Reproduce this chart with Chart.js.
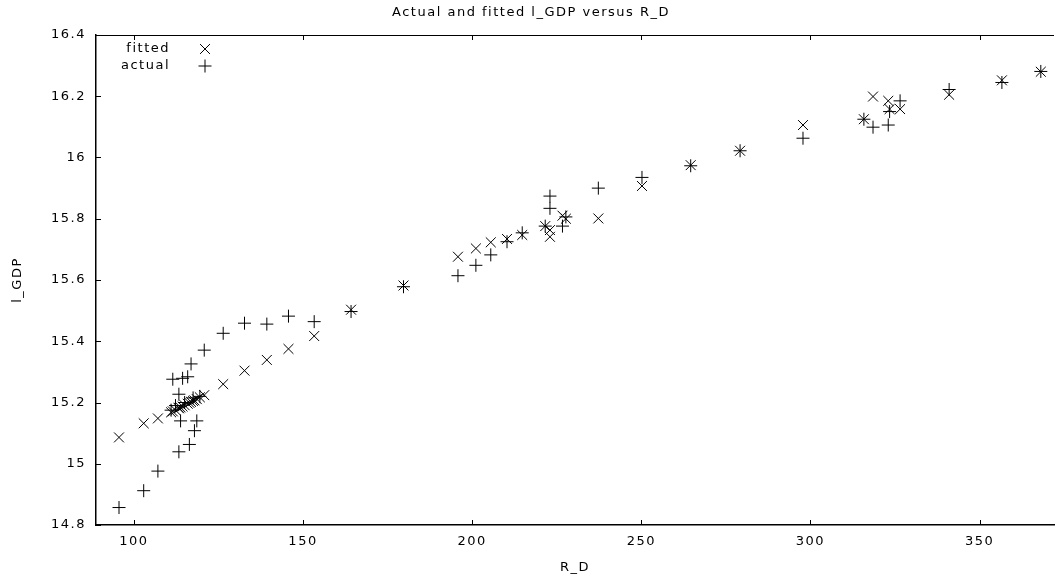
<!DOCTYPE html>
<html>
<head>
<meta charset="utf-8">
<title>Actual and fitted l_GDP versus R_D</title>
<script src="https://cdn.jsdelivr.net/npm/chart.js@4.4.0/dist/chart.umd.min.js"></script>
<style>
  html, body { margin: 0; padding: 0; background: #fff; }
  #wrap { width: 1062px; height: 575px; }
</style>
</head>
<body>
<div id="wrap"><canvas id="myChart"></canvas></div>
<script>
// R_D values (x) and the two series
var rD = [95.6, 102.9, 107.1, 111.0, 111.5, 112.3, 113.3, 113.3, 113.8, 114.4,
  115.0, 115.9, 116.4, 116.9, 117.5, 117.9, 118.6, 119.5, 120.8, 126.4,
  132.7, 139.3, 145.7, 153.3, 164.2, 179.7, 195.8, 201.1, 205.5, 210.3,
  214.8, 221.6, 223.0, 223.0, 226.7, 227.7, 237.3, 250.2, 264.6, 279.2,
  297.8, 315.8, 318.5, 323.0, 323.4, 326.5, 341.0, 356.6, 368.1];

var actual = [14.857, 14.912, 14.976, 15.175, 15.276, 15.19, 15.227, 15.039, 15.14, 15.279,
  15.2, 15.284, 15.063, 15.326, 15.215, 15.108, 15.14, 15.22, 15.371, 15.426,
  15.459, 15.456, 15.482, 15.464, 15.497, 15.578, 15.614, 15.648, 15.682, 15.725,
  15.754, 15.776, 15.874, 15.834, 15.776, 15.806, 15.9, 15.935, 15.973, 16.022,
  16.063, 16.125, 16.099, 16.106, 16.15, 16.185, 16.222, 16.245, 16.281];

var fitted = [15.086, 15.132, 15.148, 15.168, 15.171, 15.175, 15.181, 15.183, 15.184, 15.187,
  15.191, 15.196, 15.199, 15.202, 15.205, 15.207, 15.211, 15.217, 15.224, 15.26,
  15.304, 15.339, 15.375, 15.417, 15.503, 15.582, 15.676, 15.703, 15.723, 15.734,
  15.747, 15.776, 15.763, 15.741, 15.81, 15.80, 15.801, 15.907, 15.975, 16.022,
  16.106, 16.125, 16.199, 16.185, 16.158, 16.158, 16.205, 16.252, 16.28];

var xTicks = [100, 150, 200, 250, 300, 350];
var yTicks = [14.8, 15, 15.2, 15.4, 15.6, 15.8, 16, 16.2, 16.4];

function pairs(ys) {
  return rD.map(function (x, i) { return { x: x, y: ys[i] }; });
}

Chart.defaults.font.family = '"DejaVu Sans", sans-serif';
Chart.defaults.font.size = 13;
Chart.defaults.color = '#000';

// gnuplot-like spacing of the text
var spacing = {
  id: 'spacing',
  beforeLayout: function (chart) { chart.ctx.letterSpacing = '1.5px'; },
  beforeDraw: function (chart) { chart.ctx.letterSpacing = '1.5px'; }
};

// inward ticks, top border and the key
var frame = {
  id: 'frame',
  afterDraw: function (chart) {
    var ctx = chart.ctx, a = chart.chartArea;
    var xs = chart.scales.x, ys = chart.scales.y;
    ctx.save();
    ctx.strokeStyle = '#000';
    ctx.lineWidth = 1;
    ctx.beginPath();
    xs.ticks.forEach(function (t) {
      var px = Math.round(xs.getPixelForValue(t.value)) + 0.5;
      ctx.moveTo(px, a.bottom); ctx.lineTo(px, a.bottom - 5);
      ctx.moveTo(px, a.top); ctx.lineTo(px, a.top + 5);
    });
    ys.ticks.forEach(function (t) {
      var py = Math.round(ys.getPixelForValue(t.value)) + 0.5;
      ctx.moveTo(a.left, py); ctx.lineTo(a.left + 5, py);
    });
    ctx.moveTo(a.left, a.top + 0.5); ctx.lineTo(a.right, a.top + 0.5);
    ctx.stroke();

    ctx.letterSpacing = '1.5px';
    ctx.font = '13px "DejaVu Sans", sans-serif';
    ctx.fillStyle = '#000';
    ctx.textAlign = 'right';
    ctx.textBaseline = 'middle';
    chart.data.datasets.forEach(function (ds, i) {
      var ty = a.top + 14 + i * 17;
      ctx.fillText(ds.label, a.left + 74, ty);
      Chart.helpers.drawPoint(ctx, {
        pointStyle: ds.pointStyle, radius: ds.pointRadius,
        rotation: 0, borderWidth: 1
      }, a.left + 109, ty);
    });
    ctx.restore();
  }
};

var ctx = document.getElementById('myChart');
var myChart = new Chart(ctx, {
  type: 'scatter',
  data: {
    datasets: [{
      label: 'fitted',
      data: pairs(fitted),
      pointStyle: 'crossRot',
      pointRadius: 7,
      borderColor: '#000',
      backgroundColor: '#000',
      borderWidth: 1
    }, {
      label: 'actual',
      data: pairs(actual),
      pointStyle: 'cross',
      pointRadius: 6.5,
      borderColor: '#000',
      backgroundColor: '#000',
      borderWidth: 1
    }]
  },
  options: {
    responsive: true,
    maintainAspectRatio: false,
    animation: false,
    layout: { padding: 0 },
    plugins: {
      legend: { display: false },
      tooltip: { enabled: false },
      title: {
        display: true,
        text: 'Actual and fitted l_GDP versus R_D',
        color: '#000',
        font: { size: 13, weight: 'normal' },
        padding: { top: 5, bottom: 14.4 }
      }
    },
    scales: {
      x: {
        type: 'linear',
        min: 88.8,
        max: 372,
        afterBuildTicks: function (scale) {
          scale.ticks = xTicks.map(function (v) { return { value: v }; });
        },
        afterFit: function (scale) { scale.height = 50; },
        grid: { display: false },
        border: { display: true, color: '#000', width: 1.5 },
        ticks: { color: '#000', padding: 1, maxRotation: 0 },
        title: { display: true, text: 'R_D', color: '#000', padding: { top: 0, bottom: 0 } }
      },
      y: {
        type: 'linear',
        min: 14.8,
        max: 16.4,
        afterBuildTicks: function (scale) {
          scale.ticks = yTicks.map(function (v) { return { value: v }; });
        },
        afterFit: function (scale) { scale.width = 96; },
        grid: { display: false },
        border: { display: true, color: '#000', width: 1.5 },
        ticks: {
          color: '#000',
          padding: 2,
          callback: function (v) { return String(Math.round(v * 10) / 10); }
        },
        title: { display: true, text: 'l_GDP', color: '#000', padding: { top: 10, bottom: 0 } }
      }
    }
  },
  plugins: [spacing, frame]
});
</script>
</body>
</html>
